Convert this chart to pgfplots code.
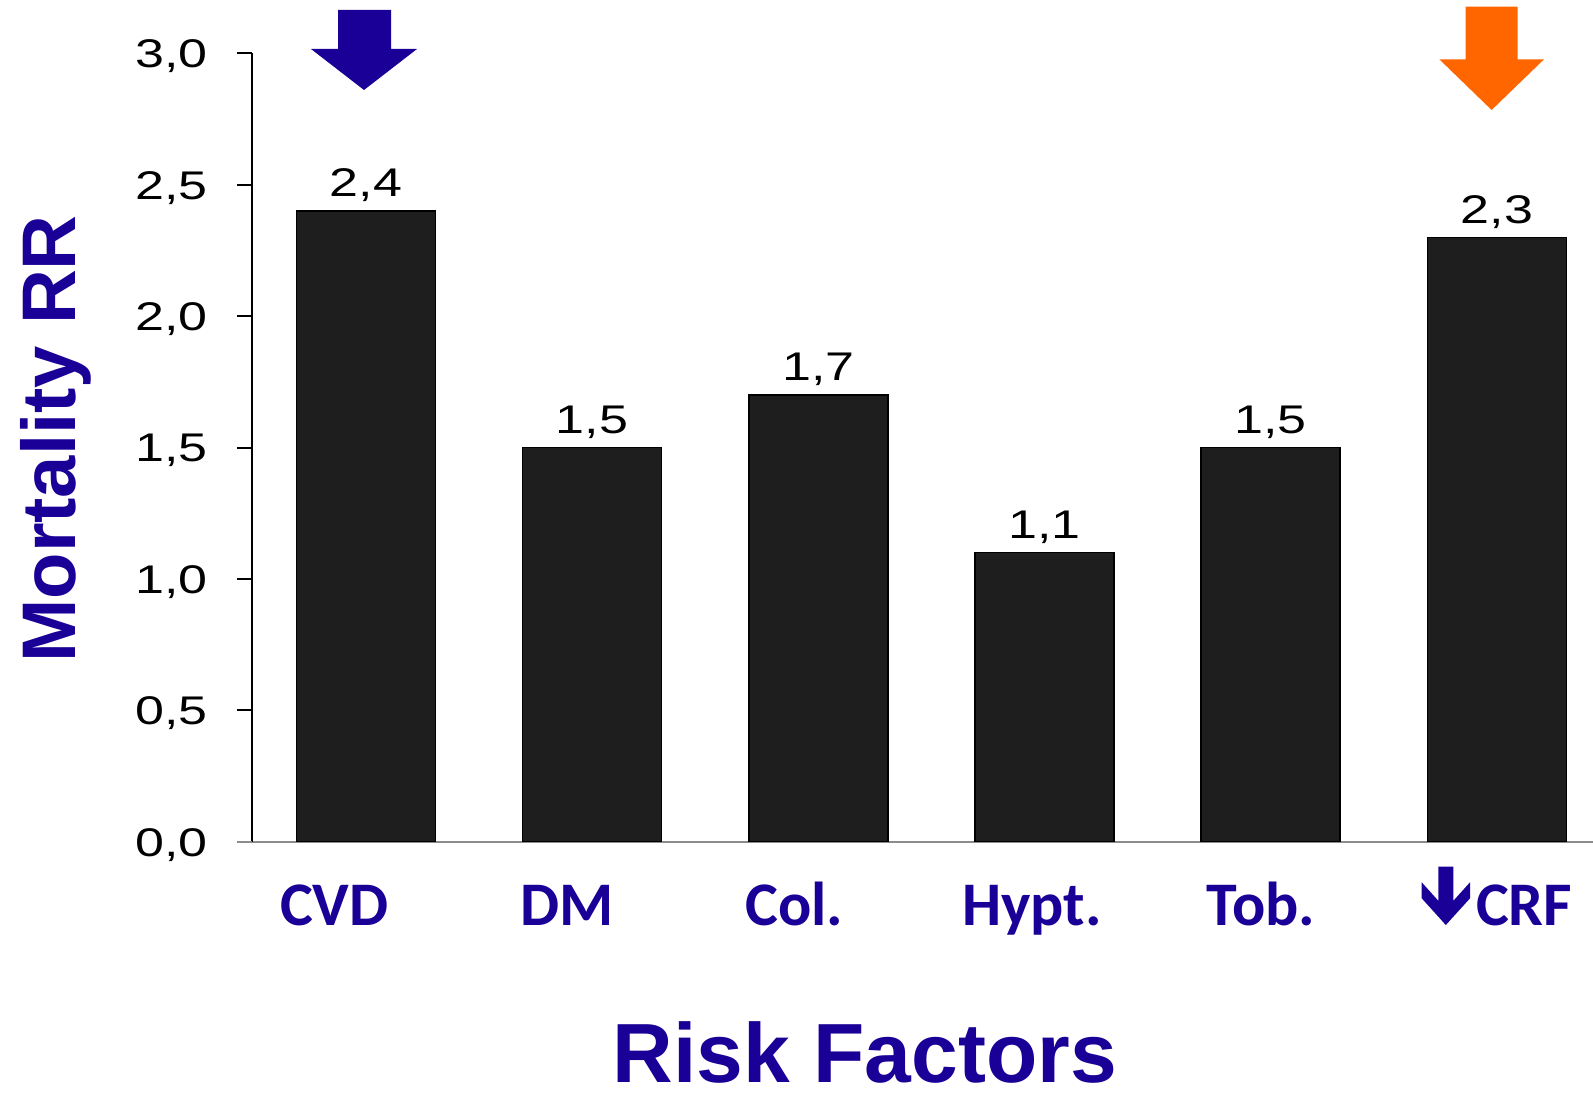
\documentclass[border=0pt]{standalone}
\usepackage{fontspec}
\setmainfont{Liberation Sans}
\newfontfamily\calibri{Carlito}
\usepackage{graphicx}
\usepackage{pgfplots}
\pgfplotsset{compat=1.18}

\definecolor{rfblue}{RGB}{26,0,150}
\definecolor{rforange}{RGB}{255,102,0}
\definecolor{barfill}{RGB}{30,30,30}
\definecolor{baseaxis}{RGB}{140,140,140}

\begin{document}
\begin{tikzpicture}
\useasboundingbox (0,0) rectangle (796.5pt,546.5pt);
\begin{axis}[
  at={(126.15pt,125.65pt)}, anchor=south west,
  scale only axis, width=670.35pt, height=394.2pt,
  xmin=-0.502, xmax=5.425, ymin=0, ymax=3,
  axis x line*=bottom, axis y line*=left,
  x axis line style={baseaxis, line width=1.2pt},
  y axis line style={black, line width=1pt},
  ybar, bar width=0.6145,
  ytick={0,0.5,1,1.5,2,2.5,3},
  ytick align=outside, major tick length=7.5pt,
  ytick style={black, line width=1pt},
  yticklabel={\scalebox{1.3}[1]{\pgfmathprintnumber[fixed,fixed zerofill,precision=1,use comma,assume math mode=true]{\tick}}},
  yticklabel style={font=\fontsize{20}{24}\selectfont, anchor=base east, inner sep=0pt, yshift=-7.2pt, xshift=-14.5pt},
  xtick={-0.139,0.891,1.895,2.945,3.957,5.121},
  xticklabels={CVD,DM,Col.,Hypt.,Tob.,CRF},
  xtick align=inside, xtick style={draw=none},
  xticklabel style={font=\calibri\bfseries\fontsize{31}{36}\selectfont, text=rfblue, anchor=base, inner sep=0pt, yshift=-41.65pt},
  ylabel={Mortality RR},
  ylabel style={at={(rel axis cs:-0.1315,0.511)}, anchor=base, rotate=0, font=\bfseries\fontsize{38}{44}\selectfont, text=rfblue, inner sep=0pt},
  xlabel={Risk Factors},
  xlabel style={at={(rel axis cs:0.457,-0.306)}, anchor=base, font=\bfseries\fontsize{42}{48}\selectfont, text=rfblue, inner sep=0pt},
  nodes near coords={\scalebox{1.3}[1]{\pgfmathprintnumber[fixed,fixed zerofill,precision=1,use comma,assume math mode=true]{\pgfplotspointmeta}}},
  every node near coord/.append style={font=\fontsize{20}{24}\selectfont, anchor=base, inner sep=0pt, yshift=7pt, text=black},
]
\addplot[fill=barfill, draw=black, line width=0.75pt]
  coordinates {(0,2.4) (1,1.5) (2,1.7) (3,1.1) (4,1.5) (5,2.3)};
\end{axis}

% baseline continues under the zero tick
\draw[baseaxis, line width=1.2pt] (118.5pt,125.65pt) -- (126.15pt,125.65pt);

% highlight arrows above the first and last bars
\fill[rfblue] (169pt,541.5pt) -- (169pt,522pt) -- (155.5pt,522pt) -- (182pt,501.5pt)
  -- (208.5pt,522pt) -- (195.5pt,522pt) -- (195.5pt,541.5pt) -- cycle;
\fill[rforange] (732.85pt,543.15pt) -- (732.85pt,516.85pt) -- (719.65pt,516.85pt) -- (745.8pt,491.5pt)
  -- (772pt,516.85pt) -- (758.85pt,516.85pt) -- (758.85pt,543.15pt) -- cycle;
% "decreased" arrow in front of the CRF label
\fill[rfblue] (719.15pt,113.15pt) -- (719.15pt,96.1pt) -- (710.85pt,105.35pt) -- (710.85pt,97.35pt)
  -- (722.9pt,84pt) -- (735pt,97.35pt) -- (735pt,105.35pt) -- (726.65pt,96.1pt)
  -- (726.65pt,113.15pt) -- cycle;
\end{tikzpicture}
\end{document}
